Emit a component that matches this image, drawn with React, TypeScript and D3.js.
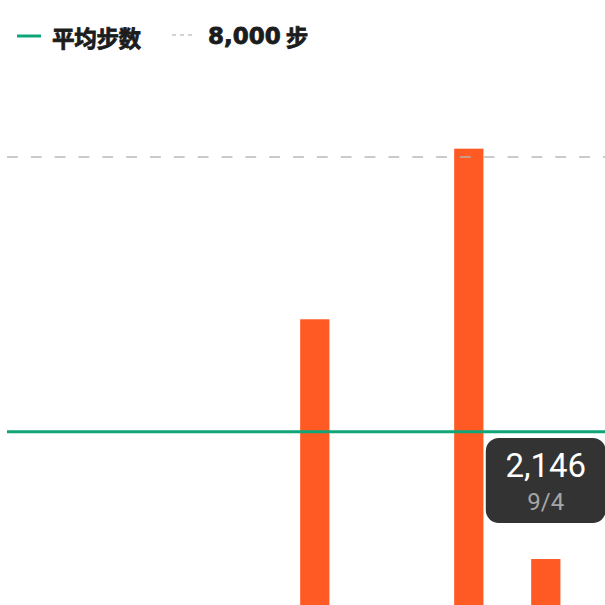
import React from 'react';
import * as d3 from 'd3';

// daily steps
const days = ['8/28', '8/29', '8/30', '8/31', '9/1', '9/2', '9/3', '9/4'];
const steps = [0, 0, 0, 0, 5637, 0, 8121, 2146];
const averageSteps = 4000;
const goalSteps = 8000;
const selectedDay = '9/4';

const legendLabels = ['平均步数', '8,000', '步'];

const WIDTH = 605;
const HEIGHT = 605;

const COLORS = {
  bar: '#FF5A23',
  average: '#0FA577',
  goal: '#c4c4c4',
  text: '#1c1c1c',
  tooltip: '#333333',
  tooltipSub: '#a6a6a6'
};

const CJK = '"Noto Sans CJK SC", "Noto Sans", sans-serif';

const App: React.FC = () => {
  const x = d3.scalePoint<string>().domain(days).range([6.8, 545.8]);
  const barWidth = x.step() * 0.38;

  // baseline sits below the visible area (the view is scrolled)
  const y = d3.scaleLinear().domain([0, goalSteps]).range([706.4, 157]);

  const selIndex = days.indexOf(selectedDay);
  const selX = x(selectedDay) || 0;
  const tipW = 120;
  const tipH = 85;
  const tipY = 438;

  return (
    <svg
      width={WIDTH}
      height={HEIGHT}
      style={{ position: 'absolute', left: 0, top: 0, background: '#fff' }}
    >
      {/* legend */}
      <g>
        <line x1={17} x2={41} y1={36} y2={36} stroke={COLORS.average} strokeWidth={3} />
        <text
          x={52}
          y={37}
          dominantBaseline="central"
          fontFamily={CJK}
          fontWeight={700}
          fontSize={22.5}
          fill={COLORS.text}
          stroke={COLORS.text}
          strokeWidth={0.8}
          letterSpacing={-0.3}
        >
          {legendLabels[0]}
        </text>
        <line
          x1={172}
          x2={194}
          y1={35}
          y2={35}
          stroke={COLORS.goal}
          strokeWidth={1.5}
          strokeDasharray="4 4"
        />
        <text
          x={208}
          y={36}
          dominantBaseline="central"
          fill={COLORS.text}
          stroke={COLORS.text}
          strokeWidth={0.8}
          fontWeight={700}
        >
          <tspan fontFamily='"DejaVu Sans", sans-serif' fontSize={23}>
            {legendLabels[1]}
          </tspan>
          <tspan fontFamily={CJK} fontSize={22.5} dx={5}>
            {legendLabels[2]}
          </tspan>
        </text>
      </g>

      {/* bars */}
      <g>
        {days.map((d, i) =>
          steps[i] > 0 ? (
            <rect
              key={d}
              x={(x(d) || 0) - barWidth / 2}
              y={y(steps[i])}
              width={barWidth}
              height={y(0) - y(steps[i])}
              fill={COLORS.bar}
            />
          ) : null
        )}
      </g>

      {/* average line */}
      <line
        x1={7}
        x2={WIDTH}
        y1={y(averageSteps)}
        y2={y(averageSteps)}
        stroke={COLORS.average}
        strokeWidth={3}
      />

      {/* goal line */}
      <line
        x1={7}
        x2={WIDTH}
        y1={y(goalSteps)}
        y2={y(goalSteps)}
        stroke="#b4b4b4"
        strokeOpacity={0.7}
        strokeWidth={2}
        strokeDasharray="10.8 13.04"
      />

      {/* tooltip */}
      <g transform={`translate(${selX - tipW / 2},${tipY})`}>
        <rect width={tipW} height={tipH} rx={13} fill={COLORS.tooltip} />
        <text
          x={tipW / 2}
          y={39}
          textAnchor="middle"
          fontFamily='Roboto, "Liberation Sans", sans-serif'
          fontSize={33}
          fill="#fff"
        >
          {d3.format(',')(steps[selIndex])}
        </text>
        <text
          x={tipW / 2}
          y={72}
          textAnchor="middle"
          fontFamily='Roboto, "Liberation Sans", sans-serif'
          fontSize={24}
          fill={COLORS.tooltipSub}
        >
          {selectedDay}
        </text>
      </g>
    </svg>
  );
};

export default App;
